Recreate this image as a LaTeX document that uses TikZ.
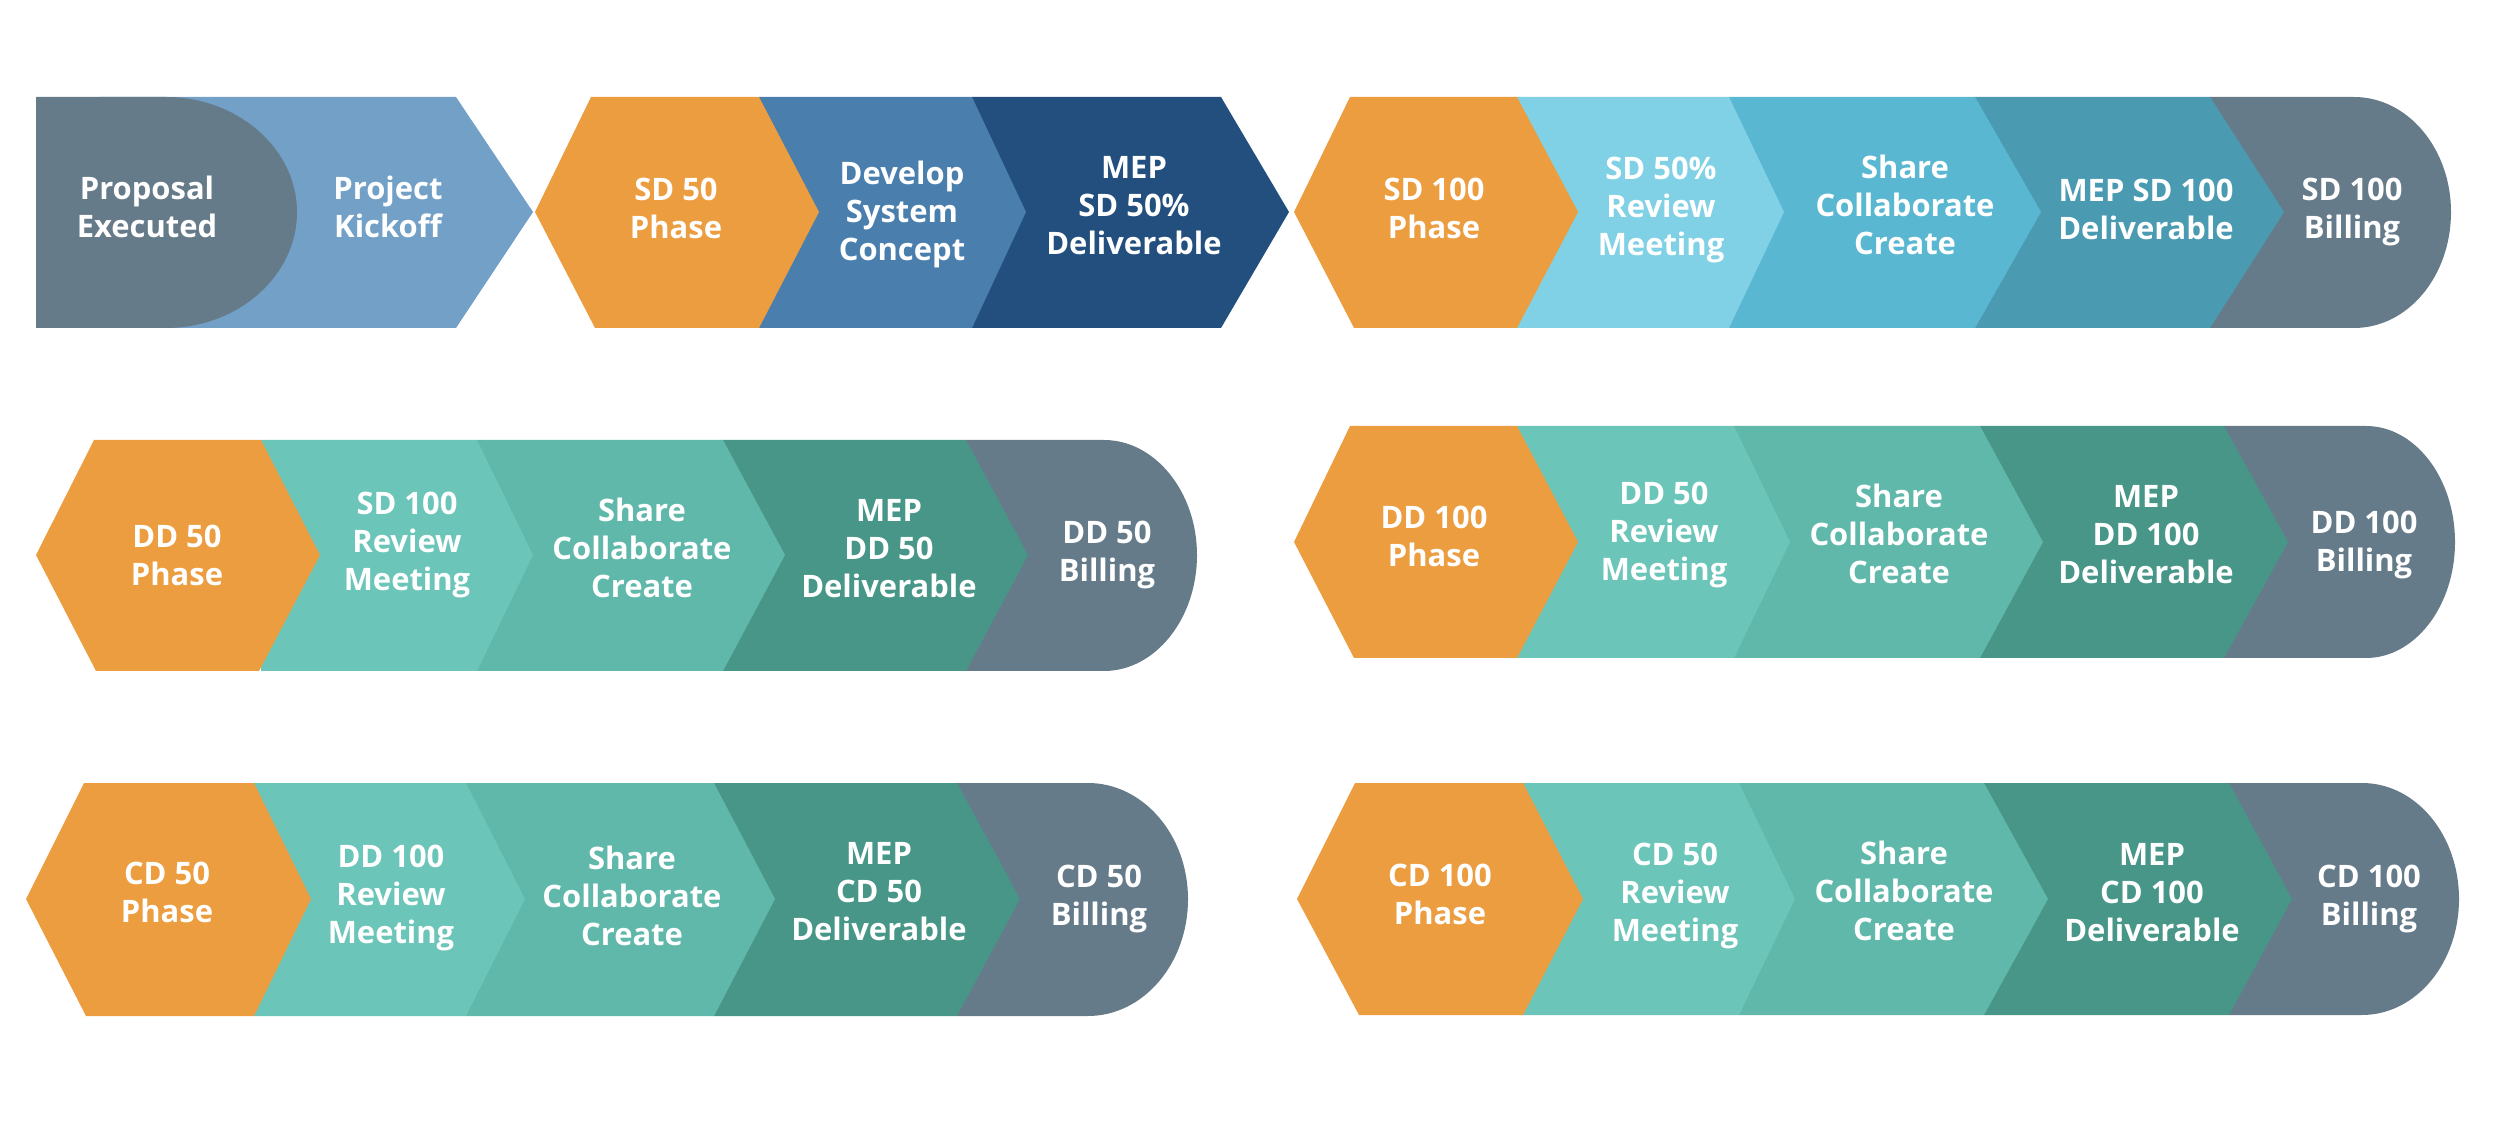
\documentclass[tikz,border=0pt]{standalone}
\usepackage{fontspec}
\setmainfont{Open Sans}
\usepackage{xcolor}
\usepackage{tikz}

\definecolor{phaseorange}{HTML}{EC9D40}
\definecolor{slate}{HTML}{667B8A}
\definecolor{kickblue}{HTML}{72A0C7}
\definecolor{devblue}{HTML}{4A7EAD}
\definecolor{darkblue}{HTML}{224F7D}
\definecolor{revcyan}{HTML}{80D1E5}
\definecolor{sharecyan}{HTML}{5AB7D1}
\definecolor{mepcyan}{HTML}{4A9BB1}
\definecolor{revteal}{HTML}{6CC5B9}
\definecolor{shareteal}{HTML}{60B8AA}
\definecolor{mepteal}{HTML}{479688}

\begin{document}
\begin{tikzpicture}[x=0.01cm,y=-0.01cm,
  lbl/.style={text=white,align=center,inner sep=0pt,text depth=0pt,
    font=\bfseries\fontsize{8.8}{10.8}\selectfont},
  phase/.style={fill=phaseorange}, bill/.style={fill=slate},
  kick/.style={fill=kickblue}, dev/.style={fill=devblue}, mepd/.style={fill=darkblue},
  rev1/.style={fill=revcyan}, share1/.style={fill=sharecyan}, mep1/.style={fill=mepcyan},
  rev/.style={fill=revteal}, share/.style={fill=shareteal}, mep/.style={fill=mepteal}]
\useasboundingbox (0,0) rectangle (2500,1137);

% row 1, left
\fill[kick] (100,97) -- (456,97) -- (533,212) -- (456,328) -- (100,328) -- cycle;
\fill[bill] (36,97) -- (166,97) .. controls (238,97) and (297,149) .. (297,212)
  .. controls (297,276) and (238,328) .. (166,328) -- (36,328) -- cycle;
\fill[mepd] (972,97) -- (1221,97) -- (1289,212) -- (1221,328) -- (972,328) -- cycle;
\fill[dev] (759,97) -- (972,97) -- (1026,212) -- (972,328) -- (759,328) -- cycle;
\fill[phase] (535,212) -- (591,97) -- (759,97) -- (819,212) -- (759,328) -- (595,328) -- cycle;

% row 1, right
\fill[bill] (2210,97) -- (2354,97) .. controls (2408,97) and (2451,149) .. (2451,212)
  .. controls (2451,276) and (2408,328) .. (2354,328) -- (2210,328) -- cycle;
\fill[mep1] (1975,97) -- (2210,97) -- (2284,212) -- (2210,328) -- (1975,328) -- cycle;
\fill[share1] (1729,97) -- (1975,97) -- (2041,212) -- (1975,328) -- (1729,328) -- cycle;
\fill[rev1] (1517,97) -- (1729,97) -- (1784,212) -- (1729,328) -- (1517,328) -- cycle;
\fill[phase] (1294,212) -- (1350,97) -- (1517,97) -- (1578,212) -- (1517,328) -- (1354,328) -- cycle;

% row 2, left
\fill[bill] (966,440) -- (1104,440) .. controls (1155,440) and (1197,492) .. (1197,555)
  .. controls (1197,619) and (1155,671) .. (1104,671) -- (966,671) -- cycle;
\fill[mep] (723,440) -- (966,440) -- (1028,555) -- (966,671) -- (723,671) -- cycle;
\fill[share] (477,440) -- (723,440) -- (785,555) -- (723,671) -- (477,671) -- cycle;
\fill[rev] (261,440) -- (477,440) -- (533,555) -- (477,671) -- (261,671) -- cycle;
\fill[phase] (36,555) -- (94,440) -- (261,440) -- (320,555) -- (259,671) -- (96,671) -- cycle;

% row 2, right
\fill[bill] (2224,426) -- (2366,426) .. controls (2415,426) and (2455,478) .. (2455,542)
  .. controls (2455,606) and (2415,658) .. (2366,658) -- (2224,658) -- cycle;
\fill[mep] (1980,426) -- (2224,426) -- (2288,542) -- (2224,658) -- (1980,658) -- cycle;
\fill[share] (1734,426) -- (1980,426) -- (2043,542) -- (1980,658) -- (1734,658) -- cycle;
\fill[rev] (1517,426) -- (1734,426) -- (1790,542) -- (1734,658) -- (1517,658) -- cycle;
\fill[phase] (1294,542) -- (1350,426) -- (1517,426) -- (1578,542) -- (1517,658) -- (1354,658) -- cycle;

% row 3, left
\fill[bill] (957,783) -- (1088,783) .. controls (1143,783) and (1188,835) .. (1188,899)
  .. controls (1188,964) and (1143,1016) .. (1088,1016) -- (957,1016) -- cycle;
\fill[mep] (714,783) -- (957,783) -- (1020,899) -- (957,1016) -- (714,1016) -- cycle;
\fill[share] (466,783) -- (714,783) -- (775,899) -- (714,1016) -- (466,1016) -- cycle;
\fill[rev] (254,783) -- (466,783) -- (525,899) -- (466,1016) -- (254,1016) -- cycle;
\fill[phase] (26,899) -- (84,783) -- (254,783) -- (311,899) -- (254,1016) -- (86,1016) -- cycle;

% row 3, right
\fill[bill] (2229,783) -- (2362,783) .. controls (2416,783) and (2459,835) .. (2459,899)
  .. controls (2459,963) and (2416,1015) .. (2362,1015) -- (2229,1015) -- cycle;
\fill[mep] (1984,783) -- (2229,783) -- (2292,899) -- (2229,1015) -- (1984,1015) -- cycle;
\fill[share] (1739,783) -- (1984,783) -- (2048,899) -- (1984,1015) -- (1739,1015) -- cycle;
\fill[rev] (1523,783) -- (1739,783) -- (1795,899) -- (1739,1015) -- (1523,1015) -- cycle;
\fill[phase] (1297,899) -- (1355,783) -- (1523,783) -- (1583,899) -- (1523,1015) -- (1359,1015) -- cycle;

% labels
\node[lbl] (proposal) at (147,207) {Proposal\\Executed};
\node[lbl] (kickoff) at (388,207) {Project\\Kickoff};
\node[lbl] (sd50) at (676,208) {SD 50\\Phase};
\node[lbl] (develop) at (902,211) {Develop\\System\\Concept};
\node[lbl] (mepsd50) at (1134,205) {MEP\\SD 50\%\\Deliverable};
\node[lbl] (sd100) at (1434,208) {SD 100\\Phase};
\node[lbl] (sd50rev) at (1661,206) {SD 50\%\\Review\\Meeting};
\node[lbl] (shareA) at (1905,205) {Share\\Collaborate\\Create};
\node[lbl] (mepsd100) at (2146,209) {MEP SD 100\\Deliverable};
\node[lbl] (sd100bill) at (2352,208) {SD 100\\Billing};

\node[lbl] (dd50) at (177,555) {DD 50\\Phase};
\node[lbl] (sd100rev) at (407,541) {SD 100\\Review\\Meeting};
\node[lbl] (shareB) at (642,548) {Share\\Collaborate\\Create};
\node[lbl] (mepdd50) at (889,548) {MEP\\DD 50\\Deliverable};
\node[lbl] (dd50bill) at (1107,551) {DD 50\\Billing};

\node[lbl] (dd100) at (1434,536) {DD 100\\Phase};
\node[lbl] (dd50rev) at (1664,531) {DD 50\\Review\\Meeting};
\node[lbl] (shareC) at (1899,534) {Share\\Collaborate\\Create};
\node[lbl] (mepdd100) at (2146,534) {MEP\\DD 100\\Deliverable};
\node[lbl] (dd100bill) at (2364,541) {DD 100\\Billing};

\node[lbl] (cd50) at (167,892) {CD 50\\Phase};
\node[lbl] (dd100rev) at (391,894) {DD 100\\Review\\Meeting};
\node[lbl] (shareD) at (632,896) {Share\\Collaborate\\Create};
\node[lbl] (mepcd50) at (879,891) {MEP\\CD 50\\Deliverable};
\node[lbl] (cd50bill) at (1099,895) {CD 50\\Billing};

\node[lbl] (cd100) at (1440,894) {CD 100\\Phase};
\node[lbl] (cd50rev) at (1675,892) {CD 50\\Review\\Meeting};
\node[lbl] (shareE) at (1904,891) {Share\\Collaborate\\Create};
\node[lbl] (mepcd100) at (2152,892) {MEP\\CD 100\\Deliverable};
\node[lbl] (cd100bill) at (2369,895) {CD 100\\Billing};
\end{tikzpicture}
\end{document}
